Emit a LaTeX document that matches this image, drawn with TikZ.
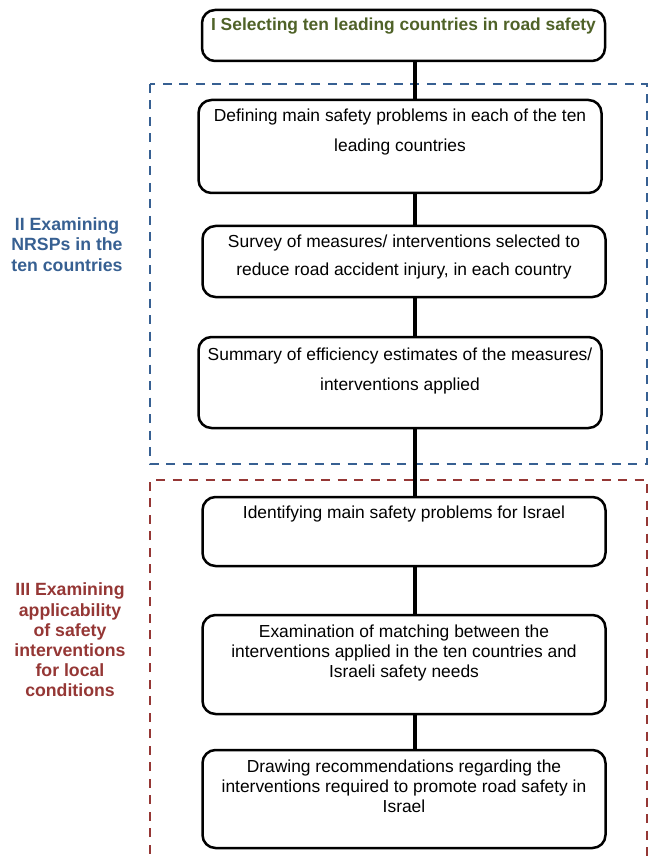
\documentclass[tikz,border=0pt]{standalone}
\usepackage{fontspec}
\setmainfont{Liberation Sans}
\usepackage{tikz}

\definecolor{stageone}{RGB}{79,98,40}
\definecolor{stagetwo}{RGB}{55,96,146}
\definecolor{stagethree}{RGB}{149,55,53}

% box text: height, line spacing, first baseline, text
\newcommand{\steptext}[4]{\parbox[c][#1pt][t]{403pt}{\centering\fontsize{17.4pt}{#2pt}\selectfont\rule{0pt}{#3pt}#4}}

\begin{document}
\begin{tikzpicture}[x=1pt,y=-1pt,
    stepbox/.style={draw, line width=2.5pt, rounded corners=13pt, inner sep=0pt},
    link/.style={line width=3.4pt},
    region/.style={line width=2.4pt, dash pattern=on 9pt off 7.5pt},
    stagelabel/.style={font=\bfseries\fontsize{17.7pt}{20.2pt}\selectfont, align=center, inner sep=0pt}]
    \useasboundingbox (0,0) rectangle (649,858);

    % the two stage frames
    \draw[region, stagetwo]   (150,84) rectangle (647,464);
    \draw[region, stagethree] (150,870) |- (647,480) -- (647,870);

    \node[stagelabel, text=stagetwo]   (nrsp)   at (67,244.5) {II Examining\\NRSPs in the\\ten countries};
    \node[stagelabel, text=stagethree] (israel) at (70,640)   {III Examining\\applicability\\of safety\\interventions\\for local\\conditions};

    % steps
    \node[stepbox] (select)  at (403.5,35.5) {\steptext{51}{20}{21}{\bfseries\color{stageone}I Selecting ten leading countries in road safety}};
    \node[stepbox] (define)  at (400,146.5)  {\steptext{93}{30}{22}{Defining main safety problems in each of the ten\\leading countries}};
    \node[stepbox] (survey)  at (404,261.5)  {\steptext{71}{28}{22}{Survey of measures/ interventions selected to\\reduce road accident injury, in each country}};
    \node[stepbox] (summary) at (400,382.5)  {\steptext{91}{30}{23}{Summary of efficiency estimates of the measures/\\interventions applied}};
    \node[stepbox] (identify) at (404,531.5) {\steptext{69}{20}{21}{Identifying main safety problems for Israel}};
    \node[stepbox] (match)   at (404,664.5)  {\steptext{99}{20}{22}{Examination of matching between the\\interventions applied in the ten countries and\\Israeli safety needs}};
    \node[stepbox] (recommend) at (404,799)  {\steptext{98}{20}{22}{Drawing recommendations regarding the\\interventions required to promote road safety in\\Israel}};

    \coordinate (spine) at (415,0);
    \foreach \a/\b in {select/define, define/survey, survey/summary, summary/identify, identify/match, match/recommend}
      \draw[link] (\a.south -| spine) -- (\b.north -| spine);
\end{tikzpicture}
\end{document}
